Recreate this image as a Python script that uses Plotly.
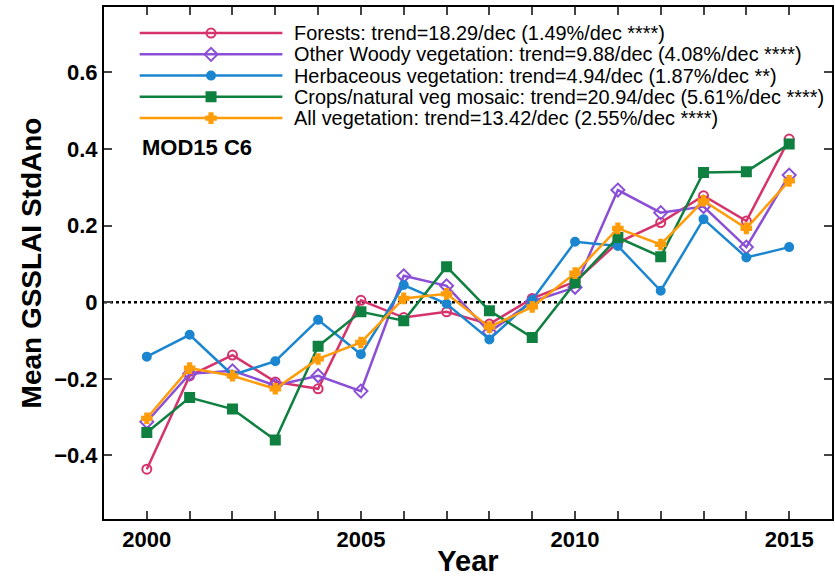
import plotly.graph_objects as go

years = list(range(2000, 2016))
forests = [-0.436, -0.192, -0.138, -0.208, -0.226, 0.005, -0.040, -0.025, -0.057, 0.010, 0.054, 0.156, 0.208, 0.278, 0.212, 0.426]
other_woody = [-0.312, -0.187, -0.179, -0.217, -0.192, -0.232, 0.069, 0.043, -0.078, 0.002, 0.039, 0.293, 0.234, 0.250, 0.144, 0.332]
herbaceous = [-0.142, -0.085, -0.190, -0.154, -0.046, -0.136, 0.045, -0.004, -0.097, 0.006, 0.158, 0.147, 0.030, 0.217, 0.117, 0.144]
crops = [-0.340, -0.249, -0.279, -0.360, -0.115, -0.025, -0.048, 0.093, -0.022, -0.092, 0.051, 0.169, 0.119, 0.339, 0.341, 0.413]
all_veg = [-0.303, -0.172, -0.192, -0.226, -0.148, -0.105, 0.010, 0.022, -0.065, -0.012, 0.076, 0.193, 0.151, 0.265, 0.193, 0.317]

names = [
    "Forests: trend=18.29/dec (1.49%/dec ****)",
    "Other Woody vegetation: trend=9.88/dec (4.08%/dec ****)",
    "Herbaceous vegetation: trend=4.94/dec (1.87%/dec **)",
    "Crops/natural veg mosaic: trend=20.94/dec (5.61%/dec ****)",
    "All vegetation: trend=13.42/dec (2.55%/dec ****)",
]
series = [forests, other_woody, herbaceous, crops, all_veg]
colors = ["#d6336c", "#8a4fd6", "#1b86cf", "#0f8040", "#ff9c0a"]
symbols = ["circle-open", "diamond-open", "circle", "square", "cross"]
msizes = [9, 10, 8, 9, 8]

x_range = [1999, 2016]
y_range = [-0.566, 0.771]
y_ticks = [-0.4, -0.2, 0, 0.2, 0.4, 0.6]
y_ticktext = ["\u22120.4", "\u22120.2", "0", "0.2", "0.4", "0.6"]
x_ticktext = [str(y) if y % 5 == 0 else "" for y in years]

FONT = "Liberation Sans, Arial, Helvetica"

fig = go.Figure()

for vals, name, c, s, ms in zip(series, names, colors, symbols, msizes):
    fig.add_trace(go.Scatter(
        x=years, y=vals, mode="lines+markers", name=name,
        line=dict(color=c, width=2.5),
        marker=dict(symbol=s, size=ms, color=c, line=dict(color=c, width=2)),
        showlegend=False,
    ))

# zero dotted line
fig.add_shape(type="line", xref="paper", yref="y", x0=0, x1=1, y0=0, y1=0,
              line=dict(color="black", width=2.5, dash="dot"), layer="below")

# manual legend (long line samples as in reference)
leg_y0 = 0.949
leg_dy = 0.0415
lx0, lx1, lxm, tx = 0.049, 0.245, 0.147, 0.258
for i, (name, c, s, ms) in enumerate(zip(names, colors, symbols, msizes)):
    yy = leg_y0 - i * leg_dy
    fig.add_shape(type="line", xref="paper", yref="paper", x0=lx0, x1=lx1, y0=yy, y1=yy,
                  line=dict(color=c, width=2.5))
    fig.add_trace(go.Scatter(x=[lxm], y=[yy], xaxis="x2", yaxis="y2", mode="markers",
                             marker=dict(symbol=s, size=ms, color=c, line=dict(color=c, width=2)),
                             showlegend=False, hoverinfo="skip"))
    fig.add_annotation(xref="paper", yref="paper", x=tx, y=yy, text=name, showarrow=False,
                       xanchor="left", yanchor="middle",
                       font=dict(family=FONT, size=19.9, color="black"))

fig.add_annotation(xref="paper", yref="paper", x=0.049, y=0.725, text="<b>MOD15 C6</b>", showarrow=False,
                   xanchor="left", yanchor="middle",
                   font=dict(family=FONT, size=22, color="black"))

fig.update_layout(
    width=835, height=577,
    margin=dict(l=104, r=3, t=7, b=58),
    plot_bgcolor="white", paper_bgcolor="white",
    font=dict(family=FONT, color="black"),
    xaxis=dict(range=x_range, tickvals=years, ticktext=x_ticktext, ticks="inside", ticklen=8,
               tickwidth=1.5, showline=True, linecolor="black", linewidth=2, mirror="ticks",
               showgrid=False, zeroline=False, automargin=False,
               tickfont=dict(size=22, family=FONT, weight="bold"),
               title=dict(text="<b>Year</b>", font=dict(size=29), standoff=0)),
    yaxis=dict(range=y_range, tickvals=y_ticks, ticktext=y_ticktext, ticks="inside", ticklen=8,
               tickwidth=1.5, showline=True, linecolor="black", linewidth=2, mirror="ticks",
               showgrid=False, zeroline=False, automargin=False,
               tickfont=dict(size=22, family=FONT, weight="bold"),
               title=dict(text="<b>Mean GSSLAI StdAno</b>", font=dict(size=28), standoff=4)),
    xaxis2=dict(range=[0, 1], overlaying="x", visible=False, domain=[0, 1]),
    yaxis2=dict(range=[0, 1], overlaying="y", visible=False),
)

fig.write_html("out.html")
